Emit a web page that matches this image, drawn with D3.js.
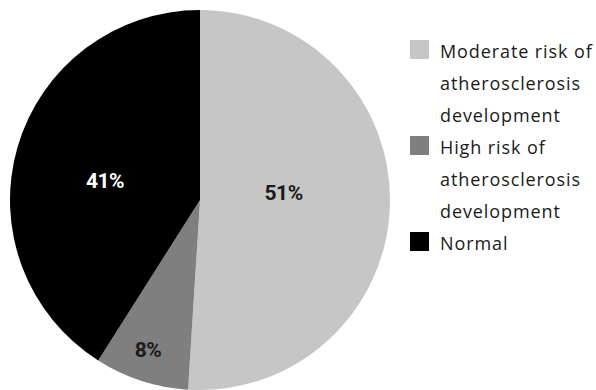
<!DOCTYPE html>
<html><head><meta charset="utf-8">
<script src="https://cdn.jsdelivr.net/npm/d3@7"></script>
<style>body{margin:0;background:#fff}</style>
</head><body>
<svg id="c" width="596" height="390"></svg>
<script>
const categories = ["Moderate risk of atherosclerosis development","High risk of atherosclerosis development","Normal"];
const values = [51, 8, 41];
const legendLines = [["Moderate risk of","atherosclerosis","development"],["High risk of","atherosclerosis","development"],["Normal"]];
const colors = ["#c6c6c6","#7f7f7f","#000000"];
const labelColors = ["#1a1a1a","#1a1a1a","#ffffff"];
const labelRadius = [84, 158, 97];
const labelAngleShift = [-7.2, 1.2, -4.6];

const svg = d3.select("#c");
const cx = 200, cy = 200, r = 190;
const pie = d3.pie().sort(null).value(d => d)(values);
const arc = d3.arc().innerRadius(0).outerRadius(r);
const g = svg.append("g").attr("transform",`translate(${cx},${cy})`);
g.selectAll("path").data(pie).join("path").attr("d",arc).attr("fill",(d,i)=>colors[i]);
g.selectAll("text").data(pie).join("text")
  .attr("transform",(d,i)=>{const a=(d.startAngle+d.endAngle)/2 + labelAngleShift[i]*Math.PI/180;const lr=labelRadius[i];return `translate(${lr*Math.sin(a)},${-lr*Math.cos(a)})`;})
  .attr("text-anchor","middle").attr("dy","0.36em")
  .attr("font-family","Roboto, 'DejaVu Sans', sans-serif").attr("font-weight","bold").attr("font-size",21)
  .attr("letter-spacing",-0.5)
  .attr("fill",(d,i)=>labelColors[i]).text(d=>d.data+"%");

const leg = svg.append("g");
let line = 0;
legendLines.forEach((lines,i)=>{
  const base = 58 + line*32;
  leg.append("rect").attr("x",410).attr("y",base-18).attr("width",19).attr("height",19).attr("fill",colors[i]);
  lines.forEach((t,j)=>{
    leg.append("text").attr("x",440).attr("y",base+j*32)
      .attr("font-family","'Open Sans', sans-serif").attr("font-size",18).attr("letter-spacing",0.9)
      .attr("fill","#1a1a1a").text(t);
  });
  line += lines.length;
});
</script>
</body></html>
